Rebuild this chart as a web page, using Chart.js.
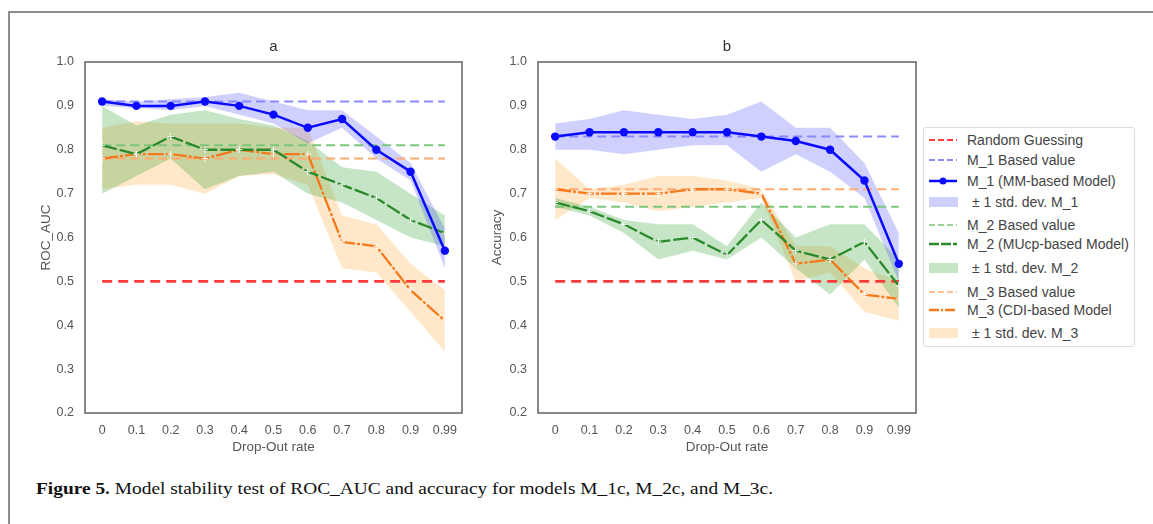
<!DOCTYPE html>
<html>
<head>
<meta charset="utf-8">
<script src="https://cdn.jsdelivr.net/npm/chart.js@4/dist/chart.umd.min.js"></script>
<style>
    html, body { margin: 0; padding: 0; background: #fff; }
    body { width: 1153px; height: 524px; position: relative; overflow: hidden; font-family: "Liberation Sans", Arial, sans-serif; }
    #frame { position: absolute; left: 8px; top: 11px; width: 1200px; height: 600px; border-top: 2px solid #8c8c8c; border-left: 2px solid #8c8c8c; }
    canvas { position: absolute; top: 0; }
    #chartA { left: 0; }
    #chartB { left: 460px; }
    #legend { position: absolute; left: 923px; top: 127px; width: 212px; height: 220px; border: 1px solid #dcdcdc; border-radius: 3px; background: #fff; box-sizing: border-box; }
    .row { position: absolute; left: 0; height: 20px; width: 210px; }
    .row svg { position: absolute; left: 4px; top: 3px; }
    .row span { position: absolute; left: 43px; top: 1px; font-size: 14px; color: #444; white-space: nowrap; line-height: 18px; }
    #caption { position: absolute; left: 36px; top: 479px; font-family: "Liberation Serif", serif; font-size: 17px; color: #111; white-space: nowrap; transform-origin: 0 0; }
</style>
</head>
<body>
<div id="frame"></div>
<canvas id="chartA" width="480" height="470"></canvas>
<canvas id="chartB" width="480" height="470"></canvas>
<div id="legend"></div>
<div id="caption"><b>Figure 5.</b> Model stability test of ROC_AUC and accuracy for models M_1c, M_2c, and M_3c.</div>
<script>
const dropOut = ['0', '0.1', '0.2', '0.3', '0.4', '0.5', '0.6', '0.7', '0.8', '0.9', '0.99'];

// panel a - ROC_AUC
const aucM1 = [0.91, 0.90, 0.90, 0.91, 0.90, 0.88, 0.85, 0.87, 0.80, 0.75, 0.57];
const aucM1Hi = [0.915, 0.91, 0.915, 0.92, 0.93, 0.91, 0.89, 0.89, 0.83, 0.77, 0.62];
const aucM1Lo = [0.90, 0.895, 0.89, 0.90, 0.88, 0.86, 0.815, 0.85, 0.78, 0.73, 0.53];
const aucM2 = [0.81, 0.79, 0.83, 0.80, 0.80, 0.80, 0.75, 0.72, 0.69, 0.64, 0.61];
const aucM2Hi = [0.90, 0.855, 0.88, 0.89, 0.87, 0.855, 0.82, 0.76, 0.75, 0.70, 0.65];
const aucM2Lo = [0.70, 0.74, 0.78, 0.71, 0.74, 0.75, 0.70, 0.68, 0.64, 0.60, 0.58];
const aucM3 = [0.78, 0.79, 0.79, 0.78, 0.80, 0.79, 0.79, 0.59, 0.58, 0.48, 0.41];
const aucM3Hi = [0.85, 0.865, 0.86, 0.86, 0.86, 0.85, 0.85, 0.65, 0.63, 0.54, 0.48];
const aucM3Lo = [0.71, 0.72, 0.72, 0.70, 0.74, 0.745, 0.72, 0.53, 0.52, 0.43, 0.34];
const aucBaseM1 = 0.91;
const aucBaseM2 = 0.81;
const aucBaseM3 = 0.78;

// panel b - Accuracy
const accM1 = [0.83, 0.84, 0.84, 0.84, 0.84, 0.84, 0.83, 0.82, 0.80, 0.73, 0.54];
const accM1Hi = [0.86, 0.87, 0.89, 0.88, 0.87, 0.88, 0.91, 0.85, 0.85, 0.77, 0.61];
const accM1Lo = [0.80, 0.80, 0.79, 0.80, 0.81, 0.81, 0.75, 0.79, 0.75, 0.69, 0.50];
const accM2 = [0.68, 0.66, 0.63, 0.59, 0.60, 0.56, 0.64, 0.57, 0.55, 0.59, 0.49];
const accM2Hi = [0.69, 0.67, 0.64, 0.63, 0.63, 0.58, 0.68, 0.60, 0.63, 0.63, 0.55];
const accM2Lo = [0.67, 0.65, 0.61, 0.55, 0.57, 0.55, 0.60, 0.53, 0.47, 0.55, 0.44];
const accM3 = [0.71, 0.70, 0.70, 0.70, 0.71, 0.71, 0.70, 0.54, 0.55, 0.47, 0.46];
const accM3Hi = [0.78, 0.71, 0.72, 0.74, 0.74, 0.73, 0.71, 0.58, 0.58, 0.53, 0.50];
const accM3Lo = [0.64, 0.69, 0.68, 0.66, 0.67, 0.68, 0.69, 0.50, 0.52, 0.43, 0.41];
const accBaseM1 = 0.83;
const accBaseM2 = 0.67;
const accBaseM3 = 0.71;

const randomGuess = 0.5;

const legendLabels = [
    'Random Guessing',
    'M_1 Based value',
    'M_1 (MM-based Model)',
    '\u00b1 1 std. dev. M_1',
    'M_2 Based value',
    'M_2 (MUcp-based Model)',
    '\u00b1 1 std. dev. M_2',
    'M_3 Based value',
    'M_3 (CDI-based Model',
    '\u00b1 1 std. dev. M_3',
];

const colors = {
    red: '#ff3b3b',
    blue: '#0a0aff',
    blueBase: '#8a8aff',
    blueBand: 'rgba(40, 40, 255, 0.22)',
    green: '#2a8a2a',
    greenBase: '#7cc67c',
    greenBand: 'rgba(44, 160, 44, 0.27)',
    orange: '#f5791c',
    orangeBase: '#ffaa70',
    orangeBand: 'rgba(255, 165, 40, 0.25)',
};

const flat = (v) => dropOut.map(() => v);

const band = (hi, lo, color) => [
    { data: hi, fill: '+1', backgroundColor: color, borderWidth: 0, pointRadius: 0, order: 10 },
    { data: lo, fill: false, borderWidth: 0, pointRadius: 0, order: 10 },
];

const baseLine = (v, color) => ({
    data: flat(v), borderColor: color, borderWidth: 2, borderDash: [9, 5], pointRadius: 0, fill: false, order: 3,
});

const modelLine = (data, color, dash) => ({
    data, borderColor: color, borderWidth: 2.3, borderDash: dash, fill: false, order: 1,
    pointStyle: 'cross', pointRadius: 3, pointBorderColor: '#fff', pointBorderWidth: 1,
});

const plotBorder = {
    id: 'plotBorder',
    beforeDatasetsDraw(chart) {
        const { ctx, chartArea: a } = chart;
        ctx.save();
        ctx.strokeStyle = '#606060';
        ctx.lineWidth = 1.5;
        ctx.strokeRect(a.left, a.top, a.right - a.left, a.bottom - a.top);
        ctx.restore();
    },
};

const tickFont = { family: '"Liberation Sans", Arial, sans-serif', size: 12.5 };
const titleFont = { family: '"Liberation Sans", Arial, sans-serif', size: 13.5 };

const makePanel = (el, title, yTitle, pad, yWidth, sets) => new Chart(el, {
    type: 'line',
    data: {
        labels: dropOut,
        datasets: [
            ...band(sets.m1Hi, sets.m1Lo, colors.blueBand),
            ...band(sets.m2Hi, sets.m2Lo, colors.greenBand),
            ...band(sets.m3Hi, sets.m3Lo, colors.orangeBand),
            { ...baseLine(randomGuess, colors.red), borderWidth: 2.6, borderDash: [10, 6], order: 2 },
            baseLine(sets.base1, colors.blueBase),
            baseLine(sets.base2, colors.greenBase),
            baseLine(sets.base3, colors.orangeBase),
            {
                data: sets.m1, borderColor: colors.blue, borderWidth: 2.5, fill: false, order: 0,
                pointRadius: 4.2, pointBackgroundColor: colors.blue, pointBorderColor: colors.blue, pointBorderWidth: 0,
            },
            modelLine(sets.m2, colors.green, [15, 3]),
            modelLine(sets.m3, colors.orange, [16, 2, 3, 2]),
        ],
    },
    options: {
        responsive: false,
        animation: false,
        devicePixelRatio: 1,
        layout: { padding: pad },
        plugins: {
            legend: { display: false },
            tooltip: { enabled: false },
            title: {
                display: true,
                text: title,
                fullSize: false,
                color: '#333',
                font: { ...titleFont, size: 15, weight: 'normal' },
                padding: { top: 2, bottom: 6 },
            },
        },
        scales: {
            x: {
                offset: true,
                grid: { display: false, drawTicks: false },
                border: { display: false },
                ticks: { color: '#555', font: tickFont, padding: 10, maxRotation: 0, autoSkip: false },
                title: { display: true, text: 'Drop-Out rate', color: '#555', font: titleFont, padding: { top: 4, bottom: 3 } },
                afterFit: (s) => { s.height = 45; },
            },
            y: {
                min: 0.2,
                max: 1.0,
                grid: { display: false, drawTicks: false },
                border: { display: false },
                ticks: { stepSize: 0.1, color: '#555', font: tickFont, padding: 11, callback: (v) => v.toFixed(1) },
                title: { display: true, text: yTitle, color: '#555', font: titleFont, padding: { top: 4, bottom: 4 } },
                afterFit: (s) => { s.width = yWidth; },
            },
        },
    },
    plugins: [plotBorder],
});

makePanel(document.getElementById('chartA'), 'a', 'ROC_AUC',
    { left: 34, right: 18, top: 36, bottom: 12 }, 51, {
        m1: aucM1, m1Hi: aucM1Hi, m1Lo: aucM1Lo,
        m2: aucM2, m2Hi: aucM2Hi, m2Lo: aucM2Lo,
        m3: aucM3, m3Hi: aucM3Hi, m3Lo: aucM3Lo,
        base1: aucBaseM1, base2: aucBaseM2, base3: aucBaseM3,
    });

makePanel(document.getElementById('chartB'), 'b', 'Accuracy',
    { left: 25, right: 24, top: 36, bottom: 12 }, 53, {
        m1: accM1, m1Hi: accM1Hi, m1Lo: accM1Lo,
        m2: accM2, m2Hi: accM2Hi, m2Lo: accM2Lo,
        m3: accM3, m3Hi: accM3Hi, m3Lo: accM3Lo,
        base1: accBaseM1, base2: accBaseM2, base3: accBaseM3,
    });

// legend, matplotlib style
const legendRows = [12, 32, 53, 74, 97, 116, 140, 164, 182, 205];
const sample = (i) => {
    const line = (c, w, dash) => `<line x1="1" y1="7" x2="29" y2="7" stroke="${c}" stroke-width="${w}" stroke-dasharray="${dash}"/>`;
    const patch = (c) => `<rect x="1" y="2" width="29" height="10" fill="${c}"/>`;
    const parts = [
        line(colors.red, 2, '6,3'),
        line(colors.blueBase, 2, '6,3'),
        line(colors.blue, 2.5, '') + `<circle cx="15" cy="7" r="3.5" fill="${colors.blue}"/>`,
        patch(colors.blueBand),
        line(colors.greenBase, 1.5, '6,3'),
        line(colors.green, 2.5, '10,2'),
        patch(colors.greenBand),
        line(colors.orangeBase, 1.5, '6,3'),
        line(colors.orange, 2.5, '10,2,2,2'),
        patch(colors.orangeBand),
    ];
    return `<svg width="32" height="14">${parts[i]}</svg>`;
};
const legendEl = document.getElementById('legend');
legendLabels.forEach((label, i) => {
    const row = document.createElement('div');
    row.className = 'row';
    row.style.top = (legendRows[i] - 10) + 'px';
    const indent = label.startsWith('\u00b1') ? ' style="left:48px"' : '';
    row.innerHTML = sample(i) + `<span${indent}>${label}</span>`;
    legendEl.appendChild(row);
});

// caption is set in a narrow serif; stretch to the reference width
const cap = document.getElementById('caption');
cap.style.transform = `scaleX(${737 / cap.getBoundingClientRect().width})`;
</script>
</body>
</html>
